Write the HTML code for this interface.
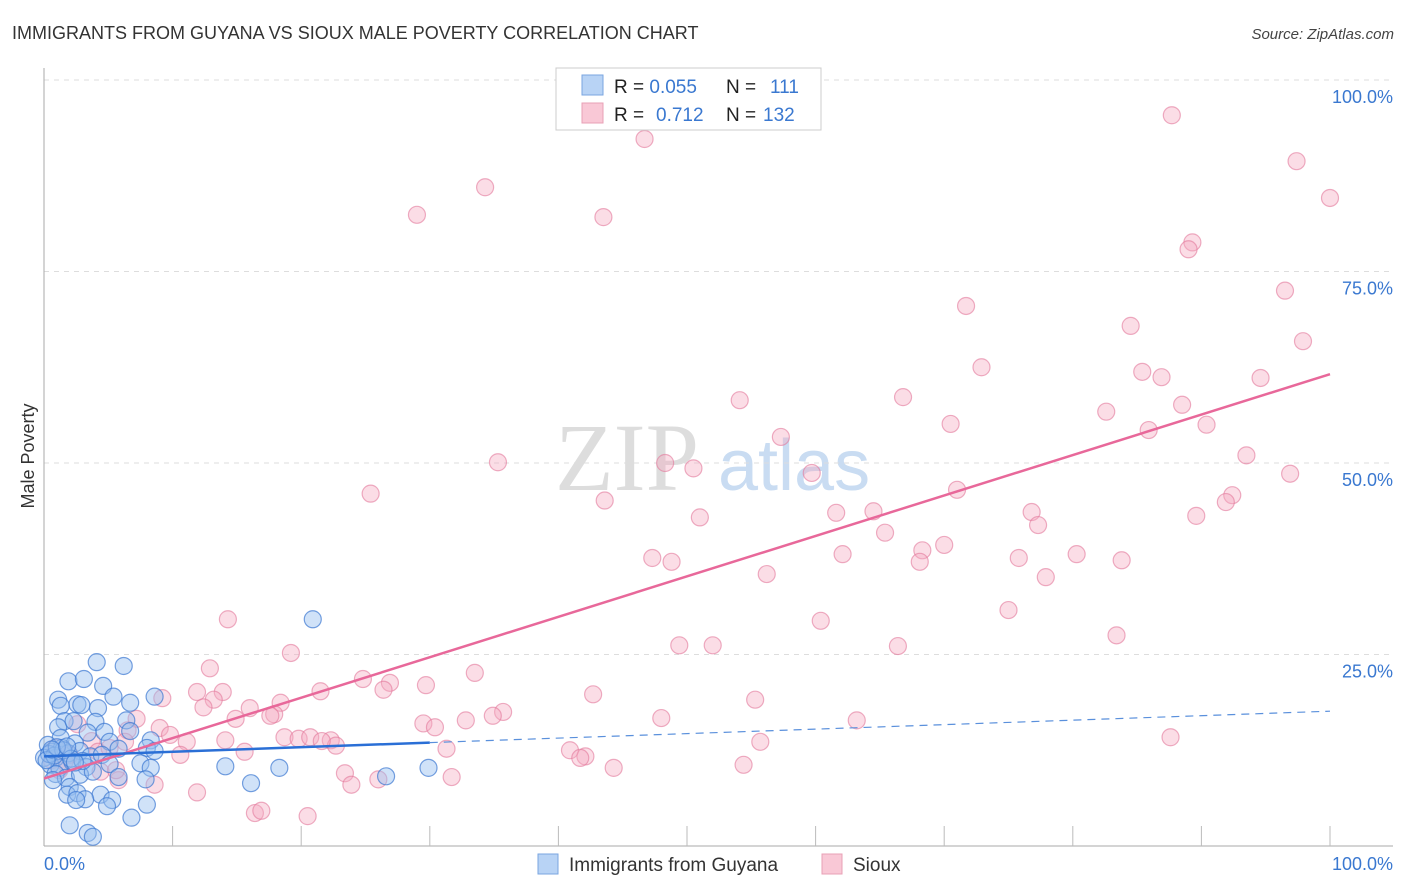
<!DOCTYPE html>
<html><head><meta charset="utf-8"><style>
body{margin:0;background:#fff;font-family:"Liberation Sans",sans-serif}
svg{display:block}
</style></head><body>
<svg id="c" width="1406" height="892" xmlns="http://www.w3.org/2000/svg">
<text x="12" y="39" font-size="18" fill="#333">IMMIGRANTS FROM GUYANA VS SIOUX MALE POVERTY CORRELATION CHART</text>
<text x="1394" y="39" font-size="15" fill="#444" font-style="italic" text-anchor="end">Source: ZipAtlas.com</text>
<text x="34" y="456" font-size="18" fill="#333" text-anchor="middle" transform="rotate(-90 34 456)">Male Poverty</text>
<g><text x="555" y="490" font-size="96" fill="#ddd" font-family="Liberation Serif,serif">ZIP</text><text x="718" y="490" font-size="72" fill="#c9dcf2">atlas</text></g>
<g id="grid"></g><g id="pts"></g><g id="lines"></g>
<g>
<rect x="556" y="68" width="265" height="62" fill="#fff" stroke="#ccc"/>
<rect x="582" y="75" width="21" height="20" fill="#b8d3f5" stroke="#7aa6e0"/>
<rect x="582" y="103" width="21" height="20" fill="#f9c8d6" stroke="#e8a0b6"/>
<text x="614" y="93" font-size="19" fill="#222">R = <tspan fill="#3a78d0">0.055</tspan><tspan x="726">N = </tspan><tspan x="770" fill="#3a78d0">111</tspan></text>
<text x="614" y="121" font-size="19" fill="#222">R = <tspan x="656" fill="#3a78d0">0.712</tspan><tspan x="726">N = </tspan><tspan x="763" fill="#3a78d0">132</tspan></text>
</g>
<g>
<rect x="538" y="854" width="20" height="20" fill="#b8d3f5" stroke="#7aa6e0"/>
<text x="569" y="871" font-size="19" fill="#333">Immigrants from Guyana</text>
<rect x="822" y="854" width="20" height="20" fill="#f9c8d6" stroke="#e8a0b6"/>
<text x="853" y="871" font-size="19" fill="#333">Sioux</text>
</g>
</svg>
<script>
const yTicks=[25,50,75,100];
const yTickLabels=["25.0%","50.0%","75.0%","100.0%"];
const xTickLabels=["0.0%","100.0%"];
const blueX=[20.9,4.1,6.2,1.9,3.1,4.6,5.4,8.6,1.1,2.6,1.3,4.2,6.7,2.9,1.6,1.1,2.3,4.0,6.4,3.4,4.7,6.7,1.3,2.4,8.3,5.1,0.3,0.6,1.4,0.9,1.9,2.8,3.6,4.5,5.8,8.0,8.6,0,0.5,1.2,2.2,3.3,5.1,7.5,8.3,14.1,18.3,26.6,29.9,0.9,1.7,2.8,3.8,5.8,7.9,16.1,0.7,2.0,1.8,2.6,4.4,3.2,5.3,2.5,4.9,8.0,2.0,6.8,3.4,3.8,0.4,0.8,1.5,0.2,1.0,2.1,0.6,1.8,3.0,2.4];
const blueY=[29.6,24.0,23.5,21.5,21.8,20.9,19.5,19.5,19.1,18.5,18.3,18.0,18.7,18.4,16.3,15.5,16.3,16.2,16.4,14.8,14.9,15.0,14.1,13.4,13.8,13.6,13.2,12.3,12.8,11.5,12.1,12.4,11.7,11.9,12.7,12.8,12.4,11.5,10.6,10.2,11.0,10.3,10.7,10.8,10.2,10.4,10.2,9.1,10.2,9.4,8.9,9.3,9.7,9.0,8.7,8.2,8.6,7.7,6.7,6.9,6.7,6.1,6.0,6.0,5.2,5.4,2.7,3.7,1.7,1.2,12.0,11.8,12.5,11.2,12.9,11.4,12.6,13.0,11.1,10.9];
const pinkX=[87.7,46.7,97.4,34.3,29.0,43.5,100,89.3,89.0,96.5,71.7,84.5,97.9,72.9,85.4,86.9,94.6,54.1,66.8,88.5,82.6,70.5,90.4,85.9,57.3,35.3,48.3,50.5,59.7,93.5,96.9,25.4,43.6,71.0,92.4,91.9,89.6,51.0,61.6,64.5,76.8,77.3,65.4,70.0,68.3,68.1,62.1,47.3,48.8,75.8,80.3,83.8,56.2,77.9,75.0,60.4,14.3,83.4,49.4,52.0,66.4,19.2,12.9,33.5,24.8,26.9,21.5,29.7,26.4,13.9,11.9,42.7,13.2,9.2,18.4,16.0,12.4,55.3,35.7,34.9,32.8,17.9,17.6,14.9,7.2,48.0,63.2,29.5,30.4,9.0,6.5,9.8,18.7,19.8,20.7,22.3,22.7,21.6,14.1,11.1,87.6,55.7,31.3,15.6,10.6,40.9,42.1,41.7,44.3,54.4,23.4,26.0,23.9,31.7,4.4,5.8,5.6,11.9,16.4,16.9,20.5,0.9,0.6,2.0,3.7,4.2,5.1,6.3,1.2,8.6,2.6,1.6];
const pinkY=[95.4,92.3,89.4,86.0,82.4,82.1,84.6,78.8,77.9,72.5,70.5,67.9,65.9,62.5,61.9,61.2,61.1,58.2,58.6,57.6,56.7,55.1,55.0,54.3,53.4,50.1,50.0,49.3,48.7,51.0,48.6,46.0,45.1,46.5,45.8,44.9,43.1,42.9,43.5,43.7,43.6,41.9,40.9,39.3,38.6,37.1,38.1,37.6,37.1,37.6,38.1,37.3,35.5,35.1,30.8,29.4,29.6,27.5,26.2,26.2,26.1,25.2,23.2,22.6,21.8,21.3,20.2,21.0,20.4,20.1,20.1,19.8,19.1,19.3,18.7,18.0,18.1,19.1,17.5,17.0,16.4,17.2,17.0,16.6,16.6,16.7,16.4,16.0,15.5,15.4,15.1,14.5,14.2,14.0,14.2,13.8,13.1,13.7,13.8,13.6,14.2,13.6,12.7,12.3,11.9,12.5,11.7,11.5,10.2,10.6,9.5,8.7,8.0,9.0,9.7,8.6,9.9,7.0,4.3,4.6,3.9,12.8,11.2,11.9,13.7,12.3,12.8,13.6,9.9,8.0,15.9,11.0];
const blueTrend=[11.7,13.5,17.6]; // y at x=0,30,100
const pinkTrend=[8.8,61.6]; // y at x=0,100
const X=v=>44+v*12.86, Y=v=>846-v*7.66;
const NS="http://www.w3.org/2000/svg";
function mk(t,a,p){const e=document.createElementNS(NS,t);for(const k in a)e.setAttribute(k,a[k]);p.appendChild(e);return e;}
const g=document.getElementById('grid');
yTicks.forEach((t,i)=>{
 const l=mk('line',{x1:44,x2:1393,y1:Y(t),y2:Y(t),stroke:'#ddd','stroke-dasharray':'5,5'},g);
 
 
 const tx=mk('text',{x:1393,y:Y(t)+23,'font-size':18,fill:'#3a78d0','text-anchor':'end'},g);tx.textContent=yTickLabels[i];
 
 
});
const ax=mk('line',{x1:44,x2:44,y1:68,y2:846,stroke:'#aaa'},g);


const bx=mk('line',{x1:44,x2:1393,y1:846,y2:846,stroke:'#aaa'},g);


for(let i=1;i<=10;i++){const tk=mk('line',{x1:X(i*10),x2:X(i*10),y1:826,y2:846,stroke:'#bbb'},g);
 
 }
[[0,'start',44],[1,'end',1393]].forEach(([i,a,x])=>{const t=mk('text',{x:x,y:870,'font-size':18,fill:'#3a78d0','text-anchor':a},g);t.textContent=xTickLabels[i];
 
 });
const p=document.getElementById('pts');
pinkX.forEach((v,i)=>{const c=mk('circle',{cx:X(v),cy:Y(pinkY[i]),r:8.5,fill:'rgba(246,170,192,0.4)',stroke:'rgba(226,120,155,0.6)','stroke-width':1.2},p);
 
 });
blueX.forEach((v,i)=>{const c=mk('circle',{cx:X(v),cy:Y(blueY[i]),r:8.5,fill:'rgba(150,190,240,0.45)',stroke:'rgba(60,120,210,0.7)','stroke-width':1.2},p);
 
 });
const L=document.getElementById('lines');
const pl=mk('line',{x1:X(0),y1:Y(pinkTrend[0]),x2:X(100),y2:Y(pinkTrend[1]),stroke:'#e8689a','stroke-width':2.5},L);


const bl=mk('line',{x1:X(0),y1:Y(blueTrend[0]),x2:X(30),y2:Y(blueTrend[1]),stroke:'#2a6fd6','stroke-width':2.5},L);


const bd=mk('line',{x1:X(30),y1:Y(blueTrend[1]),x2:X(100),y2:Y(blueTrend[2]),stroke:'#5a90dc','stroke-width':1.2,'stroke-dasharray':'8,6'},L);


</script>
</body></html>
